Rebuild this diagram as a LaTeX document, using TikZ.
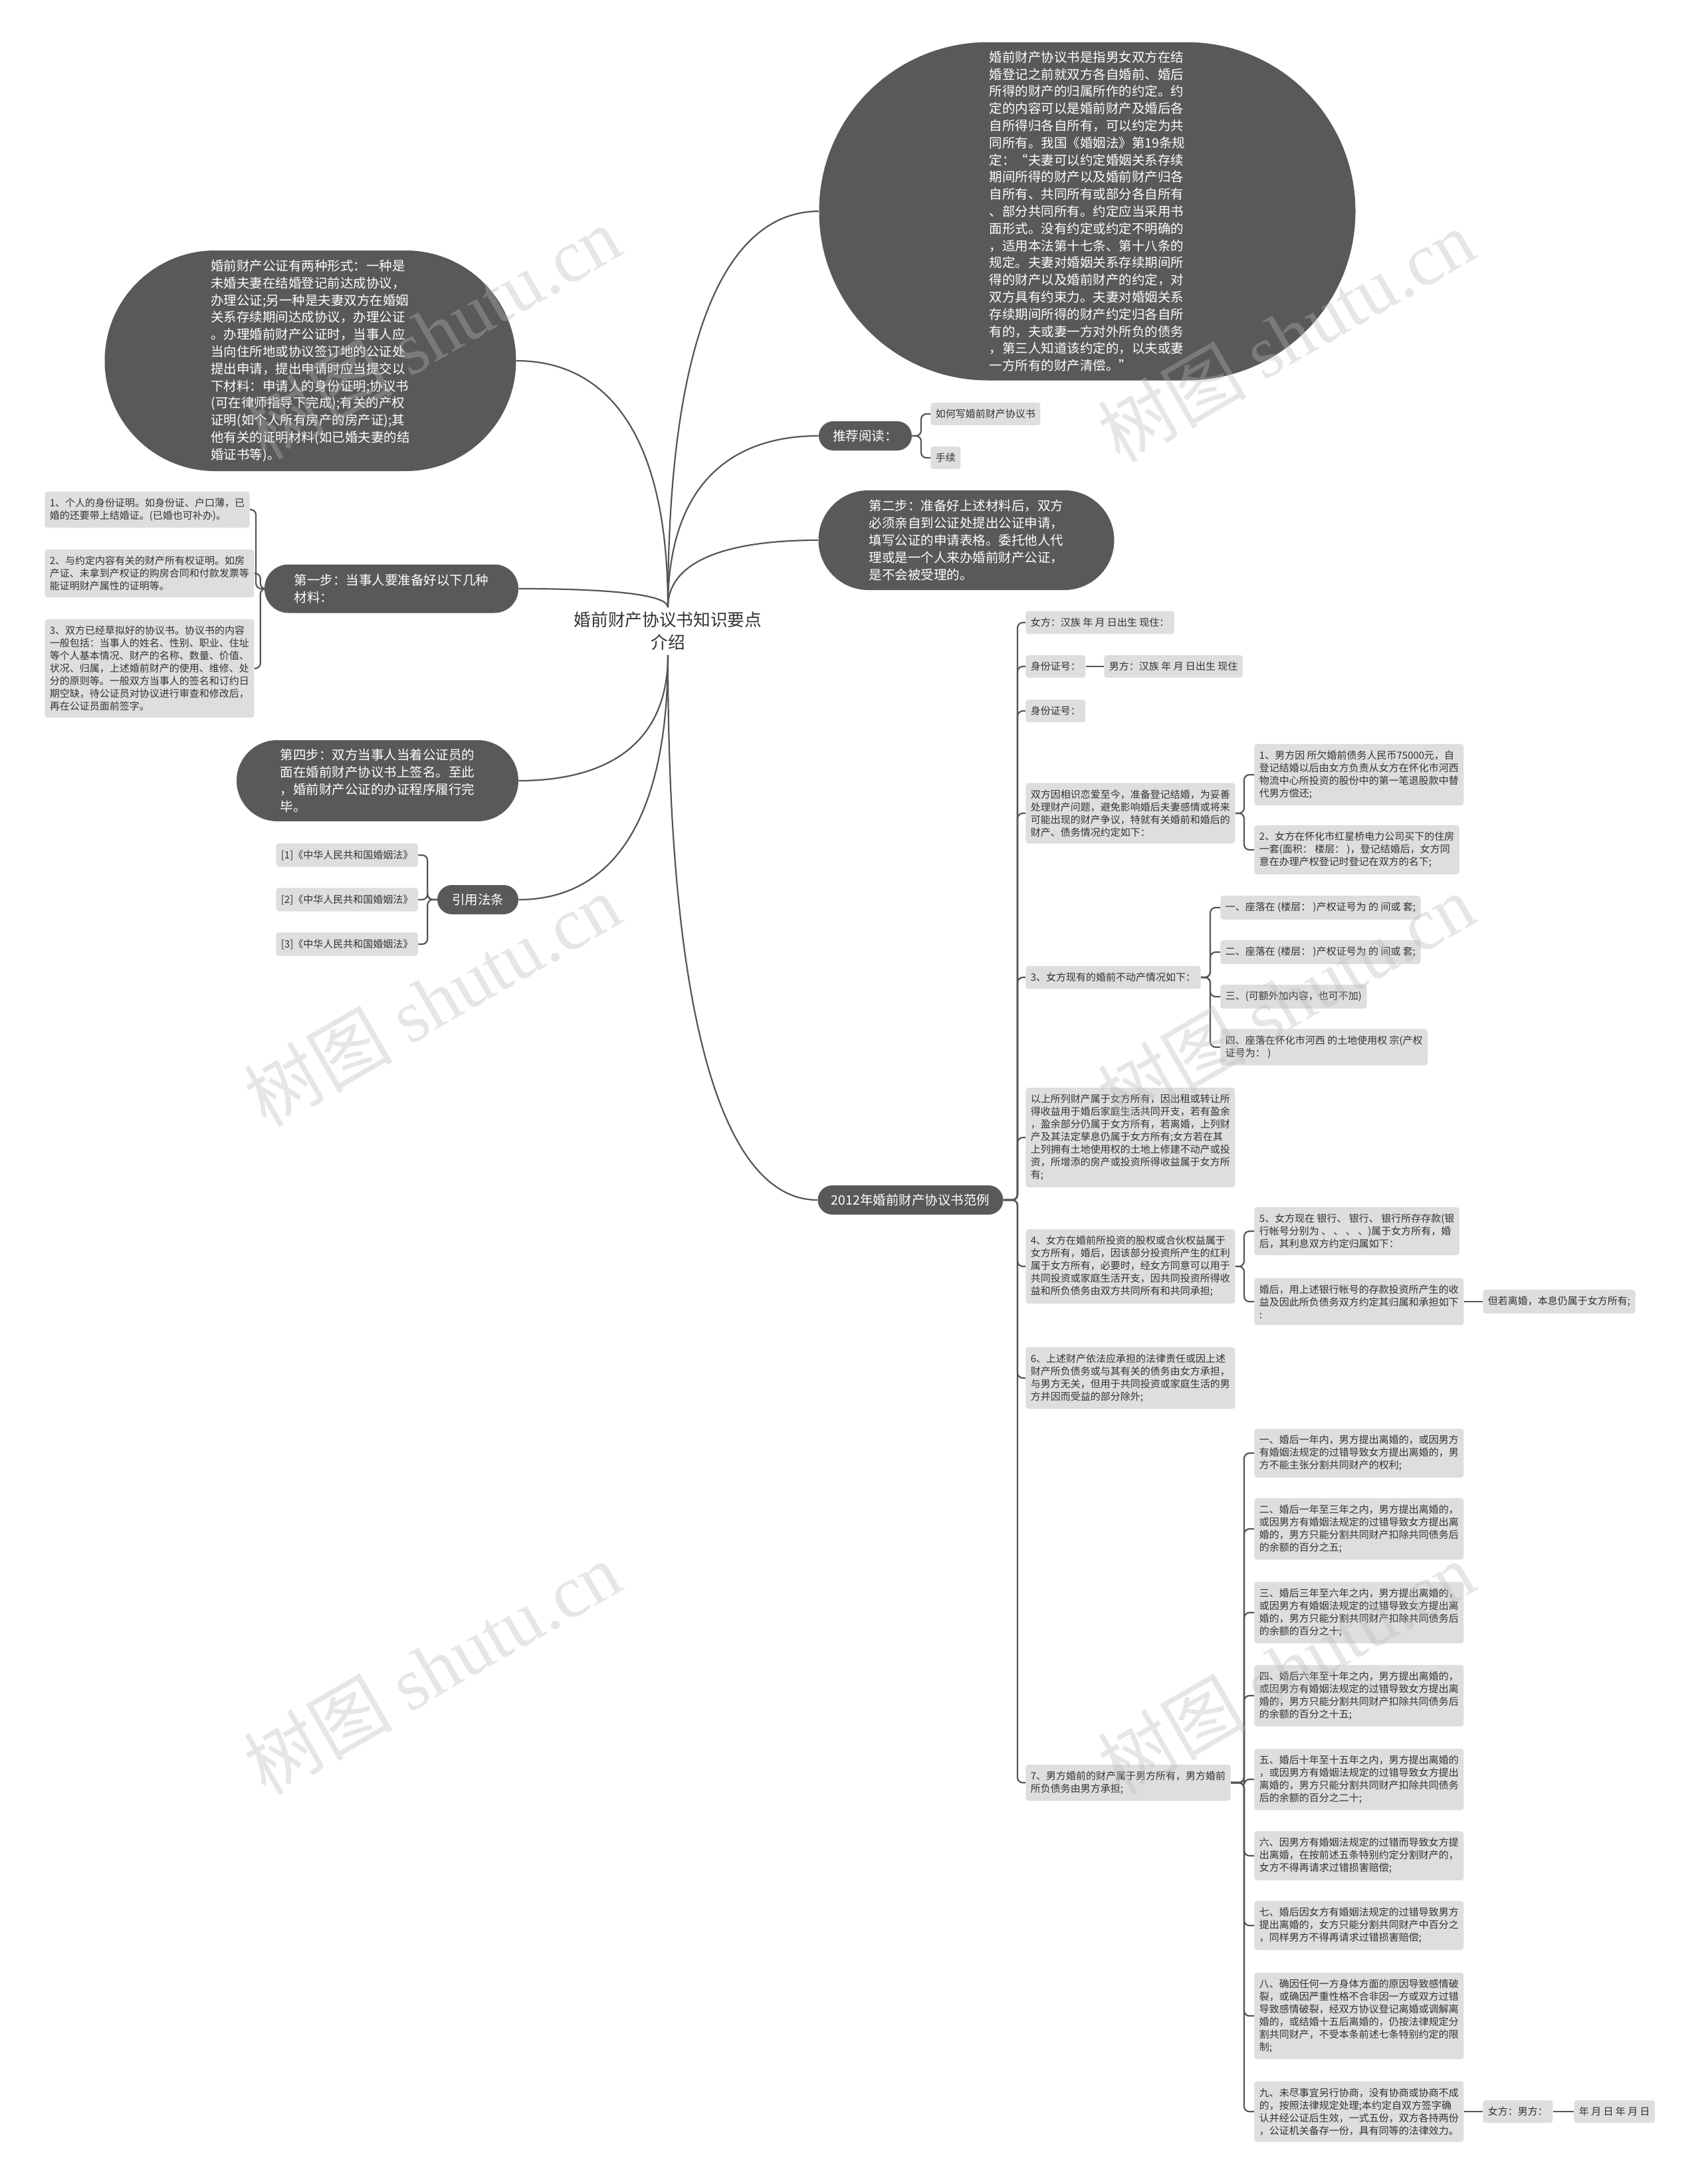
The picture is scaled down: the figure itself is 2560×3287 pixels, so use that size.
\documentclass[tikz,border=0pt]{standalone}
\usepackage{fontspec}
\setmainfont{Noto Sans CJK SC}
\newfontfamily\wmserif{Liberation Serif}
\usetikzlibrary{calc}
\definecolor{darkfill}{HTML}{595959}
\definecolor{boxfill}{HTML}{DEDEDE}
\definecolor{linec}{HTML}{555555}
\definecolor{txt}{HTML}{333333}
\tikzset{
  dark/.style={fill=darkfill, text=white, font=\fontsize{9.75pt}{12.9pt}\selectfont, align=left, inner sep=0pt},
  gbox/.style={fill=boxfill, text=txt, font=\fontsize{7.5pt}{9.5pt}\selectfont, align=left, inner xsep=3.75pt, inner ysep=5pt, rounded corners=2pt, anchor=west},
  rootnode/.style={text=txt, font=\fontsize{12.85pt}{17pt}\selectfont, align=center},
  conn/.style={draw=linec, line width=1.1pt},
  brk/.style={conn, rounded corners=4pt},
  wm/.style={text=gray!55, opacity=0.35, rotate=30, font=\fontsize{56pt}{60pt}\selectfont},
}
\newcommand\rootcurve[2]{\draw[conn] (#1) .. controls ($(#1)!0.7!(#1 |- #2)$) and ($(#2)!0.6!(#1 |- #2)$) .. (#2);}
\begin{document}
\begin{tikzpicture}[x=0.5pt,y=-0.5pt]
\path[use as bounding box, fill=white] (0,0) rectangle (2560,3287);

% root
\node[rootnode] (root) at (1005,950) {婚前财产协议书知识要点\\介绍};

% dark nodes
\node[dark, minimum width=403.5pt, minimum height=254.5pt, rounded corners=127pt] (tr) at (1636,318) {婚前财产协议书是指男女双方在结\\婚登记之前就双方各自婚前、婚后\\所得的财产的归属所作的约定。约\\定的内容可以是婚前财产及婚后各\\自所得归各自所有，可以约定为共\\同所有。我国《婚姻法》第19条规\\定：“夫妻可以约定婚姻关系存续\\期间所得的财产以及婚前财产归各\\自所有、共同所有或部分各自所有\\、部分共同所有。约定应当采用书\\面形式。没有约定或约定不明确的\\，适用本法第十七条、第十八条的\\规定。夫妻对婚姻关系存续期间所\\得的财产以及婚前财产的约定，对\\双方具有约束力。夫妻对婚姻关系\\存续期间所得的财产约定归各自所\\有的，夫或妻一方对外所负的债务\\，第三人知道该约定的，以夫或妻\\一方所有的财产清偿。”};
\node[dark, minimum width=309.5pt, minimum height=166pt, rounded corners=83pt] (tl) at (467,543) {婚前财产公证有两种形式：一种是\\未婚夫妻在结婚登记前达成协议，\\办理公证;另一种是夫妻双方在婚姻\\关系存续期间达成协议，办理公证\\。办理婚前财产公证时，当事人应\\当向住所地或协议签订地的公证处\\提出申请，提出申请时应当提交以\\下材料：申请人的身份证明;协议书\\(可在律师指导下完成);有关的产权\\证明(如个人所有房产的房产证);其\\他有关的证明材料(如已婚夫妻的结\\婚证书等)。};
\node[dark, minimum width=70pt, minimum height=22pt, rounded corners=11pt] (tj) at (1302,656) {推荐阅读：};
\node[dark, minimum width=222.5pt, minimum height=75pt, rounded corners=37.5pt] (s2) at (1454,813) {第二步：准备好上述材料后，双方\\必须亲自到公证处提出公证申请，\\填写公证的申请表格。委托他人代\\理或是一个人来办婚前财产公证，\\是不会被受理的。};
\node[dark, minimum width=139.5pt, minimum height=22pt, rounded corners=11pt] (fl) at (1370,1806) {2012年婚前财产协议书范例};
\node[dark, minimum width=191pt, minimum height=36.5pt, rounded corners=18pt] (s1) at (589,886) {第一步：当事人要准备好以下几种\\材料：};
\node[dark, minimum width=212pt, minimum height=61pt, rounded corners=30.5pt] (s4) at (568,1175) {第四步：双方当事人当着公证员的\\面在婚前财产协议书上签名。至此\\，婚前财产公证的办证程序履行完\\毕。};
\node[dark, minimum width=61pt, minimum height=22pt, rounded corners=11pt] (yf) at (719,1354) {引用法条};

% left gray boxes
\node[gbox] (s1a) at (67,767) {1、个人的身份证明。如身份证、户口薄，已\\婚的还要带上结婚证。(已婚也可补办)。};
\node[gbox] (s1b) at (67,863) {2、与约定内容有关的财产所有权证明。如房\\产证、未拿到产权证的购房合同和付款发票等\\能证明财产属性的证明等。};
\node[gbox] (s1c) at (67,1006) {3、双方已经草拟好的协议书。协议书的内容\\一般包括：当事人的姓名、性别、职业、住址\\等个人基本情况、财产的名称、数量、价值、\\状况、归属，上述婚前财产的使用、维修、处\\分的原则等。一般双方当事人的签名和订约日\\期空缺，待公证员对协议进行审查和修改后，\\再在公证员面前签字。};
\node[gbox] (r1) at (415,1287) {[1]《中华人民共和国婚姻法》};
\node[gbox] (r2) at (415,1354) {[2]《中华人民共和国婚姻法》};
\node[gbox] (r3) at (415,1421) {[3]《中华人民共和国婚姻法》};

% recommended
\node[gbox] (rk1) at (1400,623) {如何写婚前财产协议书};
\node[gbox] (rk2) at (1400,689) {手续};

% 2012 branch
\node[gbox] (fa) at (1543,937) {女方：汉族 年 月 日出生 现住：};
\node[gbox] (id1) at (1543,1003) {身份证号：};
\node[gbox] (ma) at (1661,1003) {男方：汉族 年 月 日出生 现住};
\node[gbox] (id2) at (1543,1070) {身份证号：};
\node[gbox] (sf) at (1543,1224) {双方因相识恋爱至今，准备登记结婚，为妥善\\处理财产问题，避免影响婚后夫妻感情或将来\\可能出现的财产争议，特就有关婚前和婚后的\\财产、债务情况约定如下：};
\node[gbox] (sf1) at (1887,1166) {1、男方因 所欠婚前债务人民币75000元，自\\登记结婚以后由女方负责从女方在怀化市河西\\物流中心所投资的股份中的第一笔退股款中替\\代男方偿还;};
\node[gbox] (sf2) at (1887,1279) {2、女方在怀化市红星桥电力公司买下的住房\\一套(面积： 楼层： )，登记结婚后，女方同\\意在办理产权登记时登记在双方的名下;};
\node[gbox] (b3) at (1543,1471) {3、女方现有的婚前不动产情况如下：};
\node[gbox] (b3a) at (1836,1366) {一、座落在 (楼层： )产权证号为 的 间或 套;};
\node[gbox] (b3b) at (1836,1433) {二、座落在 (楼层： )产权证号为 的 间或 套;};
\node[gbox] (b3c) at (1836,1500) {三、(可额外加内容，也可不加)};
\node[gbox] (b3d) at (1836,1576) {四、座落在怀化市河西 的土地使用权 宗(产权\\证号为： )};
\node[gbox] (ys) at (1543,1712) {以上所列财产属于女方所有，因出租或转让所\\得收益用于婚后家庭生活共同开支，若有盈余\\，盈余部分仍属于女方所有，若离婚，上列财\\产及其法定孳息仍属于女方所有;女方若在其\\上列拥有土地使用权的土地上修建不动产或投\\资，所增添的房产或投资所得收益属于女方所\\有;};
\node[gbox] (b4) at (1543,1906) {4、女方在婚前所投资的股权或合伙权益属于\\女方所有，婚后，因该部分投资所产生的红利\\属于女方所有，必要时，经女方同意可以用于\\共同投资或家庭生活开支，因共同投资所得收\\益和所负债务由双方共同所有和共同承担;};
\node[gbox] (b45) at (1887,1853) {5、女方现在 银行、 银行、 银行所存存款(银\\行帐号分别为 、 、 、 、)属于女方所有，婚\\后，其利息双方约定归属如下：};
\node[gbox] (b4h) at (1887,1959) {婚后，用上述银行帐号的存款投资所产生的收\\益及因此所负债务双方约定其归属和承担如下\\:};
\node[gbox] (b4d) at (2231,1959) {但若离婚，本息仍属于女方所有;};
\node[gbox] (b6) at (1543,2074) {6、上述财产依法应承担的法律责任或因上述\\财产所负债务或与其有关的债务由女方承担，\\与男方无关，但用于共同投资或家庭生活的男\\方并因而受益的部分除外;};
\node[gbox] (b7) at (1543,2683) {7、男方婚前的财产属于男方所有，男方婚前\\所负债务由男方承担;};
\node[gbox] (c1) at (1887,2187) {一、婚后一年内，男方提出离婚的，或因男方\\有婚姻法规定的过错导致女方提出离婚的，男\\方不能主张分割共同财产的权利;};
\node[gbox] (c2) at (1887,2301) {二、婚后一年至三年之内，男方提出离婚的，\\或因男方有婚姻法规定的过错导致女方提出离\\婚的，男方只能分割共同财产扣除共同债务后\\的余额的百分之五;};
\node[gbox] (c3) at (1887,2427) {三、婚后三年至六年之内，男方提出离婚的，\\或因男方有婚姻法规定的过错导致女方提出离\\婚的，男方只能分割共同财产扣除共同债务后\\的余额的百分之十;};
\node[gbox] (c4) at (1887,2552) {四、婚后六年至十年之内，男方提出离婚的，\\或因男方有婚姻法规定的过错导致女方提出离\\婚的，男方只能分割共同财产扣除共同债务后\\的余额的百分之十五;};
\node[gbox] (c5) at (1887,2678) {五、婚后十年至十五年之内，男方提出离婚的\\，或因男方有婚姻法规定的过错导致女方提出\\离婚的，男方只能分割共同财产扣除共同债务\\后的余额的百分之二十;};
\node[gbox] (c6) at (1887,2793) {六、因男方有婚姻法规定的过错而导致女方提\\出离婚，在按前述五条特别约定分割财产的，\\女方不得再请求过错损害赔偿;};
\node[gbox] (c7) at (1887,2898) {七、婚后因女方有婚姻法规定的过错导致男方\\提出离婚的，女方只能分割共同财产中百分之\\，同样男方不得再请求过错损害赔偿;};
\node[gbox] (c8) at (1887,3034) {八、确因任何一方身体方面的原因导致感情破\\裂，或确因严重性格不合非因一方或双方过错\\导致感情破裂，经双方协议登记离婚或调解离\\婚的，或结婚十五后离婚的，仍按法律规定分\\割共同财产，不受本条前述七条特别约定的限\\制;};
\node[gbox] (c9) at (1887,3178) {九、未尽事宜另行协商，没有协商或协商不成\\的，按照法律规定处理;本约定自双方签字确\\认并经公证后生效，一式五份，双方各持两份\\，公证机关备存一份，具有同等的法律效力。};
\node[gbox] (sg1) at (2231,3178) {女方：男方：};
\node[gbox] (sg2) at (2368,3178) {年 月 日 年 月 日};

% root connectors
\rootcurve{root.north}{tr.west}
\rootcurve{root.north}{tj.west}
\rootcurve{root.north}{s2.west}
\rootcurve{root.north}{tl.east}
\rootcurve{root.north}{s1.east}
\rootcurve{root.south}{fl.west}
\rootcurve{root.south}{s4.east}
\rootcurve{root.south}{yf.east}

% brackets right
\foreach \k in {rk1,rk2} {\draw[brk] (tj.east) -| ($(\k.west)+(-14,0)$) -- (\k.west);}
\foreach \k in {fa,id1,id2,sf,b3,ys,b4,b6,b7} {\draw[brk] (fl.east) -| ($(\k.west)+(-12,0)$) -- (\k.west);}
\foreach \k in {sf1,sf2} {\draw[brk] (sf.east) -| ($(\k.west)+(-15,0)$) -- (\k.west);}
\foreach \k in {b3a,b3b,b3c,b3d} {\draw[brk] (b3.east) -| ($(\k.west)+(-15,0)$) -- (\k.west);}
\foreach \k in {b45,b4h} {\draw[brk] (b4.east) -| ($(\k.west)+(-15,0)$) -- (\k.west);}
\foreach \k in {c1,c2,c3,c4,c5,c6,c7,c8,c9} {\draw[brk] (b7.east) -| ($(\k.west)+(-15,0)$) -- (\k.west);}
\draw[conn] (id1.east) -- (ma.west);
\draw[conn] (b4h.east) -- (b4d.west);
\draw[conn] (c9.east) -- (sg1.west);
\draw[conn] (sg1.east) -- (sg2.west);

% brackets left
\foreach \k in {s1a,s1b,s1c} {\draw[brk] (s1.west) -| ($(\k.east)+(9,0)$) -- (\k.east);}
\foreach \k in {r1,r2,r3} {\draw[brk] (yf.west) -| ($(\k.east)+(14,0)$) -- (\k.east);}

% watermarks
\node[wm] (w1) at (650,500) {树图 {\wmserif shutu.cn}};
\node[wm] (w2) at (1935,505) {树图 {\wmserif shutu.cn}};
\node[wm] (w3) at (650,1505) {树图 {\wmserif shutu.cn}};
\node[wm] (w4) at (1935,1505) {树图 {\wmserif shutu.cn}};
\node[wm] (w5) at (650,2510) {树图 {\wmserif shutu.cn}};
\node[wm] (w6) at (1935,2510) {树图 {\wmserif shutu.cn}};
\end{tikzpicture}
\end{document}
